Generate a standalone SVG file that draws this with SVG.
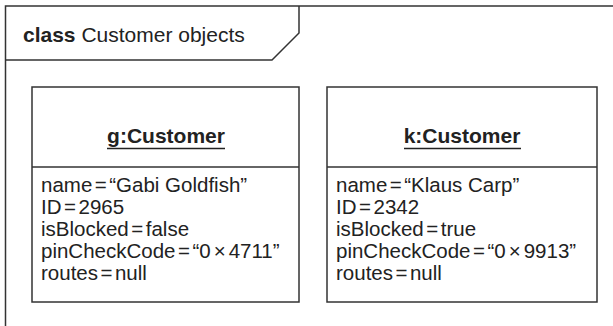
<svg xmlns="http://www.w3.org/2000/svg" width="613" height="326" viewBox="0 0 613 326">
<style>
.ln{fill:none;stroke:#333;stroke-width:1.5}
.t{font-family:"Liberation Sans",Arial,sans-serif;font-size:21px;fill:#222}
.a{font-family:"Liberation Sans",Arial,sans-serif;font-size:20.5px;fill:#222}
.b{font-weight:bold}
.h{font-family:"Liberation Sans",Arial,sans-serif;font-size:21px;font-weight:bold;fill:#222;text-anchor:middle}
.u{stroke:#222;stroke-width:1.3}
</style>
<rect width="613" height="326" fill="#fff"/>
<g id="frame">
<path class="ln" d="M5.5,326 V6 H613"/>
<path class="ln" d="M5.5,60 H272 L299,33 V6"/>
<text class="t" x="23" y="42"><tspan class="b">class</tspan> Customer objects</text>
</g>
<g id="g-customer">
<rect class="ln" x="32" y="87" width="267" height="215"/>
<line class="ln" x1="32" y1="167" x2="299" y2="167"/>
<text class="h" x="166" y="143">g:Customer</text>
<line class="u" x1="107" y1="148.5" x2="225" y2="148.5"/>
<text class="a" x="41" y="192">name<tspan dx="2.5">=</tspan><tspan dx="2.5">“Gabi Goldfish”</tspan></text>
<text class="a" x="41" y="214">ID<tspan dx="2.5">=</tspan><tspan dx="2.5">2965</tspan></text>
<text class="a" x="41" y="236">isBlocked<tspan dx="2.5">=</tspan><tspan dx="2.5">false</tspan></text>
<text class="a" x="41" y="258">pinCheckCode<tspan dx="2.5">=</tspan><tspan dx="2.5">“0</tspan><tspan dx="3">×</tspan><tspan dx="3">4711”</tspan></text>
<text class="a" x="41" y="280">routes<tspan dx="2.5">=</tspan><tspan dx="2.5">null</tspan></text>
</g>
<g id="k-customer">
<rect class="ln" x="327" y="87" width="270" height="215"/>
<line class="ln" x1="327" y1="167" x2="597" y2="167"/>
<text class="h" x="462" y="143">k:Customer</text>
<line class="u" x1="404" y1="148.5" x2="521" y2="148.5"/>
<text class="a" x="336" y="192">name<tspan dx="2.5">=</tspan><tspan dx="2.5">“Klaus Carp”</tspan></text>
<text class="a" x="336" y="214">ID<tspan dx="2.5">=</tspan><tspan dx="2.5">2342</tspan></text>
<text class="a" x="336" y="236">isBlocked<tspan dx="2.5">=</tspan><tspan dx="2.5">true</tspan></text>
<text class="a" x="336" y="258">pinCheckCode<tspan dx="2.5">=</tspan><tspan dx="2.5">“0</tspan><tspan dx="3">×</tspan><tspan dx="3">9913”</tspan></text>
<text class="a" x="336" y="280">routes<tspan dx="2.5">=</tspan><tspan dx="2.5">null</tspan></text>
</g>
<g id="connectors"></g>
</svg>
